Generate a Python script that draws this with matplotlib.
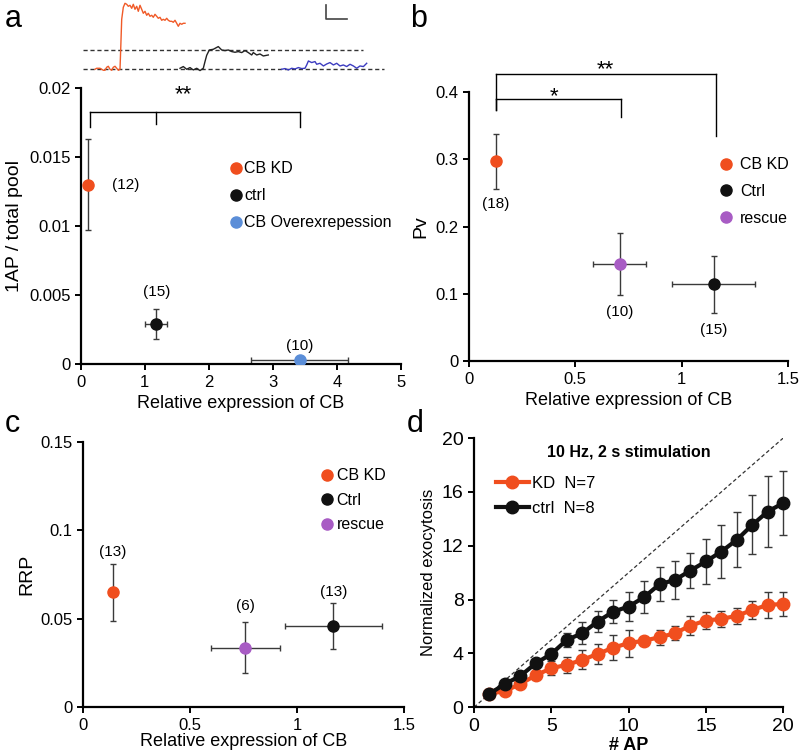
import matplotlib.pyplot as plt
from matplotlib.lines import Line2D

plt.rcParams["font.family"] = ["Liberation Sans", "DejaVu Sans"]

# colours
C_KD = "#F04E1E"
C_CTRL = "#111111"
C_OE = "#5B8ED8"
C_RES = "#A85CC4"
C_ERR = "#3a3a3a"

# ---- panel a data ----
a_names = ["CB KD", "ctrl", "CB Overexrepession"]
a_x = [0.12, 1.18, 3.42]
a_xerr = [0.0, 0.17, 0.76]
a_y = [0.0130, 0.0029, 0.0003]
a_yerr = [0.0033, 0.0011, 0.0]
a_n = ["(12)", "(15)", "(10)"]

# example traces (height above baseline, arbitrary units vs samples)
tr_orange_t = [0, 1.7, 3.3, 5, 6.7, 8.3, 10, 11.7, 13.3, 15, 16.7, 18.3, 20, 21.7, 23.3, 25,
               25.7, 26.7, 28.3, 30, 31.7, 33.3, 35, 36.7, 38.3, 40, 41.7, 43.3, 45, 46.7,
               48.3, 50, 51.7, 53.3, 55, 56.7, 58.3, 60, 61.7, 63.3, 65, 66.7, 68.3, 70,
               71.7, 73.3, 75, 76.7, 78.3, 80, 81.7, 83.3, 85, 86.7, 88.3, 90]
tr_orange_h = [0, 1, 1, 1, 0, -1, -1, 2, 3, 0, -1, 2, 3, 1, -1, 0,
               20, 50, 62, 66, 65, 63, 64, 61, 65, 60, 63, 58, 64, 60,
               56, 58, 54, 56, 53, 54, 52, 55, 53, 51, 52, 49, 50, 49,
               51, 49, 48, 48, 47, 49, 46, 43, 46, 45, 46, 46]
tr_black_t = [0, 3.3, 6.7, 10, 13.3, 16.7, 20, 23.3, 25, 26.7, 29.3, 33.3, 38.3, 41.7, 45,
              48.3, 51.7, 55, 58.3, 61.7, 65, 68.3, 71.7, 73.3, 76.7, 80, 83.3, 88.3]
tr_black_h = [1, 2.7, 0, 1.7, -0.7, 1, -1.3, 1, 7.7, 14, 19.3, 20, 22.7, 19.3, 18.7,
              19.3, 17.7, 17, 17.7, 16.7, 18.7, 16.7, 14.3, 16.7, 14.3, 15.3, 13.3, 14.3]
tr_blue_t = [0, 3.3, 6.7, 10, 13.3, 16.7, 20, 23.3, 25, 26.7, 30, 33.3, 35, 38.3, 41.7,
             45, 48.3, 51.7, 55, 58.3, 61.7, 65, 68.3, 71.7, 75, 78.3, 81.7, 85]
tr_blue_h = [0, 0.7, -0.7, 1, 0.3, 1.7, 0.7, 1, 4.3, 8.3, 6.7, 7.7, 5, 6, 3.3,
             5.3, 6.7, 4.3, 6, 3.3, 4.3, 2.7, 5, 3.3, 1, 3.3, 2.7, 6]

# ---- panel b data ----
b_names = ["CB KD", "Ctrl", "rescue"]
b_x = [0.127, 1.15, 0.71]
b_xerr = [0.012, 0.197, 0.125]
b_y = [0.297, 0.114, 0.145]
b_yerr = [0.041, 0.042, 0.046]
b_n = ["(18)", "(15)", "(10)"]

# ---- panel c data ----
c_names = ["CB KD", "Ctrl", "rescue"]
c_x = [0.14, 1.17, 0.758]
c_xerr = [0.012, 0.225, 0.16]
c_y = [0.065, 0.046, 0.0336]
c_yerr = [0.016, 0.013, 0.0145]
c_n = ["(13)", "(13)", "(6)"]

# ---- panel d data ----
d_ap = list(range(1, 21))
d_ctrl = [1.0, 1.73, 2.33, 3.27, 3.96, 5.0, 5.5, 6.37, 7.1, 7.48,
          8.18, 9.14, 9.46, 10.16, 10.83, 11.57, 12.44, 13.55, 14.54, 15.17]
d_ctrl_err = [0.0, 0.2, 0.3, 0.3, 0.4, 0.5, 0.8, 0.75, 0.87, 1.1,
              1.2, 1.25, 1.4, 1.3, 1.7, 1.95, 2.05, 2.2, 2.65, 2.35]
d_kd = [1.0, 1.2, 1.73, 2.38, 2.9, 3.15, 3.52, 3.96, 4.43, 4.76,
        4.95, 5.2, 5.5, 6.07, 6.44, 6.57, 6.79, 7.23, 7.6, 7.68]
d_kd_err = [0.0, 0.1, 0.2, 0.3, 0.5, 0.6, 0.7, 0.75, 0.95, 1.0,
            0.3, 0.55, 0.5, 0.7, 0.65, 0.6, 0.6, 0.65, 1.0, 0.9]
d_names = ["KD  N=7", "ctrl  N=8"]


def style_axes(ax, fs=12):
    for s in ("top", "right"):
        ax.spines[s].set_visible(False)
    for s in ("left", "bottom"):
        ax.spines[s].set_linewidth(1.6)
    ax.tick_params(direction="out", length=4, width=1.4, labelsize=fs)


def scatter_err(ax, xs, ys, xerr, yerr, colors, ms=8):
    for x, y, xe, ye, c in zip(xs, ys, xerr, yerr, colors):
        ax.errorbar(x, y, xerr=xe if xe else None, yerr=ye if ye else None,
                    fmt="none", ecolor=C_ERR, elinewidth=1, capsize=2.5, capthick=1,
                    zorder=2)
        ax.plot(x, y, "o", color=c, ms=ms, mec=c, zorder=3)


def bracket(ax, x0, x1, y, drop0, drop1, mids=(), mid_drop=None):
    kw = dict(color="k", lw=1, clip_on=False)
    ax.plot([x0, x1], [y, y], **kw)
    ax.plot([x0, x0], [y, drop0], **kw)
    ax.plot([x1, x1], [y, drop1], **kw)
    for m in mids:
        ax.plot([m, m], [y, mid_drop], **kw)


fig = plt.figure(figsize=(8, 7.54), dpi=100)

# ---------------- panel a ----------------
ax = fig.add_axes([0.101, 0.517, 0.400, 0.366])
style_axes(ax)
scatter_err(ax, a_x, a_y, a_xerr, a_yerr, [C_KD, C_CTRL, C_OE])
ax.set_xlim(0, 5)
ax.set_ylim(0, 0.02)
ax.set_xticks([0, 1, 2, 3, 4, 5])
ax.set_yticks([0, 0.005, 0.01, 0.015, 0.02])
ax.set_yticklabels(["0", "0.005", "0.01", "0.015", "0.02"])
ax.set_xlabel("Relative expression of CB", fontsize=13)
ax.set_ylabel("1AP / total pool", fontsize=14, labelpad=4)
ax.text(0.48, 0.0130, a_n[0], fontsize=11, va="center")
ax.text(1.18, 0.0052, a_n[1], fontsize=11, ha="center", va="center")
ax.text(3.42, 0.0013, a_n[2], fontsize=11, ha="center", va="center")
bracket(ax, 0.15, 3.42, 0.0183, 0.0172, 0.0172, mids=[1.18], mid_drop=0.0174)
ax.text(1.6, 0.0188, "**", fontsize=16, ha="center", va="bottom")
h = [Line2D([0], [0], marker="o", ls="", color=c, ms=8) for c in (C_KD, C_CTRL, C_OE)]
ax.legend(h, a_names, loc="center left", bbox_to_anchor=(0.47, 0.61), frameon=False,
          fontsize=11.5, handlelength=0.6, handletextpad=0.2, labelspacing=0.75,
          borderaxespad=0, borderpad=0)

# example traces inset (units: pixels of the figure band above panel a)
ti = fig.add_axes([0.1, 0.8966, 0.4, 0.1034])
ti.set_xlim(80, 400)
ti.set_ylim(-8.7, 69.3)
ti.axis("off")
ti.plot([83, 363], [19.7, 19.7], ls=(0, (3, 2)), color="#333333", lw=1)
ti.plot([83, 384], [0, 0], ls=(0, (3, 2)), color="#333333", lw=1)
ti.plot([95 + t for t in tr_orange_t], tr_orange_h, color="#F05A28", lw=1)
ti.plot([180 + t for t in tr_black_t], tr_black_h, color="#222222", lw=1)
ti.plot([281.7 + t for t in tr_blue_t], tr_blue_h, color="#3C3CC0", lw=1)
ti.plot([326, 326, 347], [64, 50, 50], color="#444444", lw=1.2)

# ---------------- panel b ----------------
ax = fig.add_axes([0.586, 0.521, 0.399, 0.357])
style_axes(ax)
scatter_err(ax, b_x, b_y, b_xerr, b_yerr, [C_KD, C_CTRL, C_RES])
ax.set_xlim(0, 1.5)
ax.set_ylim(0, 0.4)
ax.set_xticks([0, 0.5, 1, 1.5])
ax.set_xticklabels(["0", "0.5", "1", "1.5"])
ax.set_yticks([0, 0.1, 0.2, 0.3, 0.4])
ax.set_yticklabels(["0", "0.1", "0.2", "0.3", "0.4"])
ax.set_xlabel("Relative expression of CB", fontsize=13)
ax.set_ylabel("Pv", fontsize=14)
ax.text(b_x[0], 0.233, b_n[0], fontsize=11, ha="center", va="center")
ax.text(b_x[1], 0.046, b_n[1], fontsize=11, ha="center", va="center")
ax.text(b_x[2], 0.073, b_n[2], fontsize=11, ha="center", va="center")
bracket(ax, 0.127, 1.16, 0.427, 0.373, 0.335)
bracket(ax, 0.127, 0.713, 0.390, 0.373, 0.363)
ax.text(0.40, 0.378, "*", fontsize=16, ha="center", va="bottom")
ax.text(0.64, 0.417, "**", fontsize=16, ha="center", va="bottom", clip_on=False)
h = [Line2D([0], [0], marker="o", ls="", color=c, ms=8) for c in (C_KD, C_CTRL, C_RES)]
ax.legend(h, b_names, loc="center left", bbox_to_anchor=(0.79, 0.63), frameon=False,
          fontsize=11.5, handlelength=0.6, handletextpad=0.6, labelspacing=0.75,
          borderaxespad=0, borderpad=0)

# ---------------- panel c ----------------
ax = fig.add_axes([0.104, 0.062, 0.401, 0.352])
style_axes(ax)
scatter_err(ax, c_x, c_y, c_xerr, c_yerr, [C_KD, C_CTRL, C_RES])
ax.set_xlim(0, 1.5)
ax.set_ylim(0, 0.15)
ax.set_xticks([0, 0.5, 1, 1.5])
ax.set_xticklabels(["0", "0.5", "1", "1.5"])
ax.set_yticks([0, 0.05, 0.1, 0.15])
ax.set_yticklabels(["0", "0.05", "0.1", "0.15"])
ax.set_xlabel("Relative expression of CB", fontsize=13, labelpad=0)
ax.set_ylabel("RRP", fontsize=14)
ax.text(c_x[0], 0.088, c_n[0], fontsize=11, ha="center", va="center")
ax.text(c_x[1], 0.065, c_n[1], fontsize=11, ha="center", va="center")
ax.text(c_x[2], 0.057, c_n[2], fontsize=11, ha="center", va="center")
h = [Line2D([0], [0], marker="o", ls="", color=c, ms=8) for c in (C_KD, C_CTRL, C_RES)]
ax.legend(h, c_names, loc="center left", bbox_to_anchor=(0.745, 0.78), frameon=False,
          fontsize=11.5, handlelength=0.6, handletextpad=0.3, labelspacing=0.6,
          borderaxespad=0, borderpad=0)

# ---------------- panel d ----------------
ax = fig.add_axes([0.5925, 0.062, 0.3865, 0.357])
style_axes(ax, fs=14)
ax.plot([0, 20], [0, 20], ls=(0, (3, 2)), color="#333333", lw=0.9)
for ys, es, c, z in ((d_kd, d_kd_err, C_KD, 3), (d_ctrl, d_ctrl_err, C_CTRL, 4)):
    eb = ax.errorbar(d_ap, ys, yerr=es, color=c, lw=3, marker="o", ms=9,
                     ecolor=C_ERR, elinewidth=1, capsize=3, capthick=1, zorder=z)
    for art in eb.lines[0:1] + tuple(eb.lines[1]) + tuple(eb.lines[2]):
        art.set_clip_on(False)
ax.set_xlim(0, 20)
ax.set_ylim(0, 20)
ax.set_xticks([0, 5, 10, 15, 20])
ax.set_yticks([0, 4, 8, 12, 16, 20])
ax.set_xlabel("# AP", fontsize=13, fontweight="bold", labelpad=2)
ax.set_ylabel("Normalized exocytosis", fontsize=12)
ax.text(10, 19.0, "10 Hz, 2 s stimulation", fontsize=11.5, fontweight="bold",
        ha="center", va="center")
h = [Line2D([0], [0], marker="o", color=c, lw=3, ms=9) for c in (C_KD, C_CTRL)]
ax.legend(h, d_names, loc="upper left", bbox_to_anchor=(0.07, 0.86), frameon=False,
          fontsize=12, handlelength=2.0, handletextpad=0.2, labelspacing=0.6,
          borderaxespad=0, borderpad=0)

# panel letters
fig.text(0.006, 0.975, "a", fontsize=22, va="center")
fig.text(0.512, 0.975, "b", fontsize=22, va="center")
fig.text(0.006, 0.438, "c", fontsize=22, va="center")
fig.text(0.508, 0.438, "d", fontsize=22, va="center")

fig.savefig("out.png", dpi=100)
